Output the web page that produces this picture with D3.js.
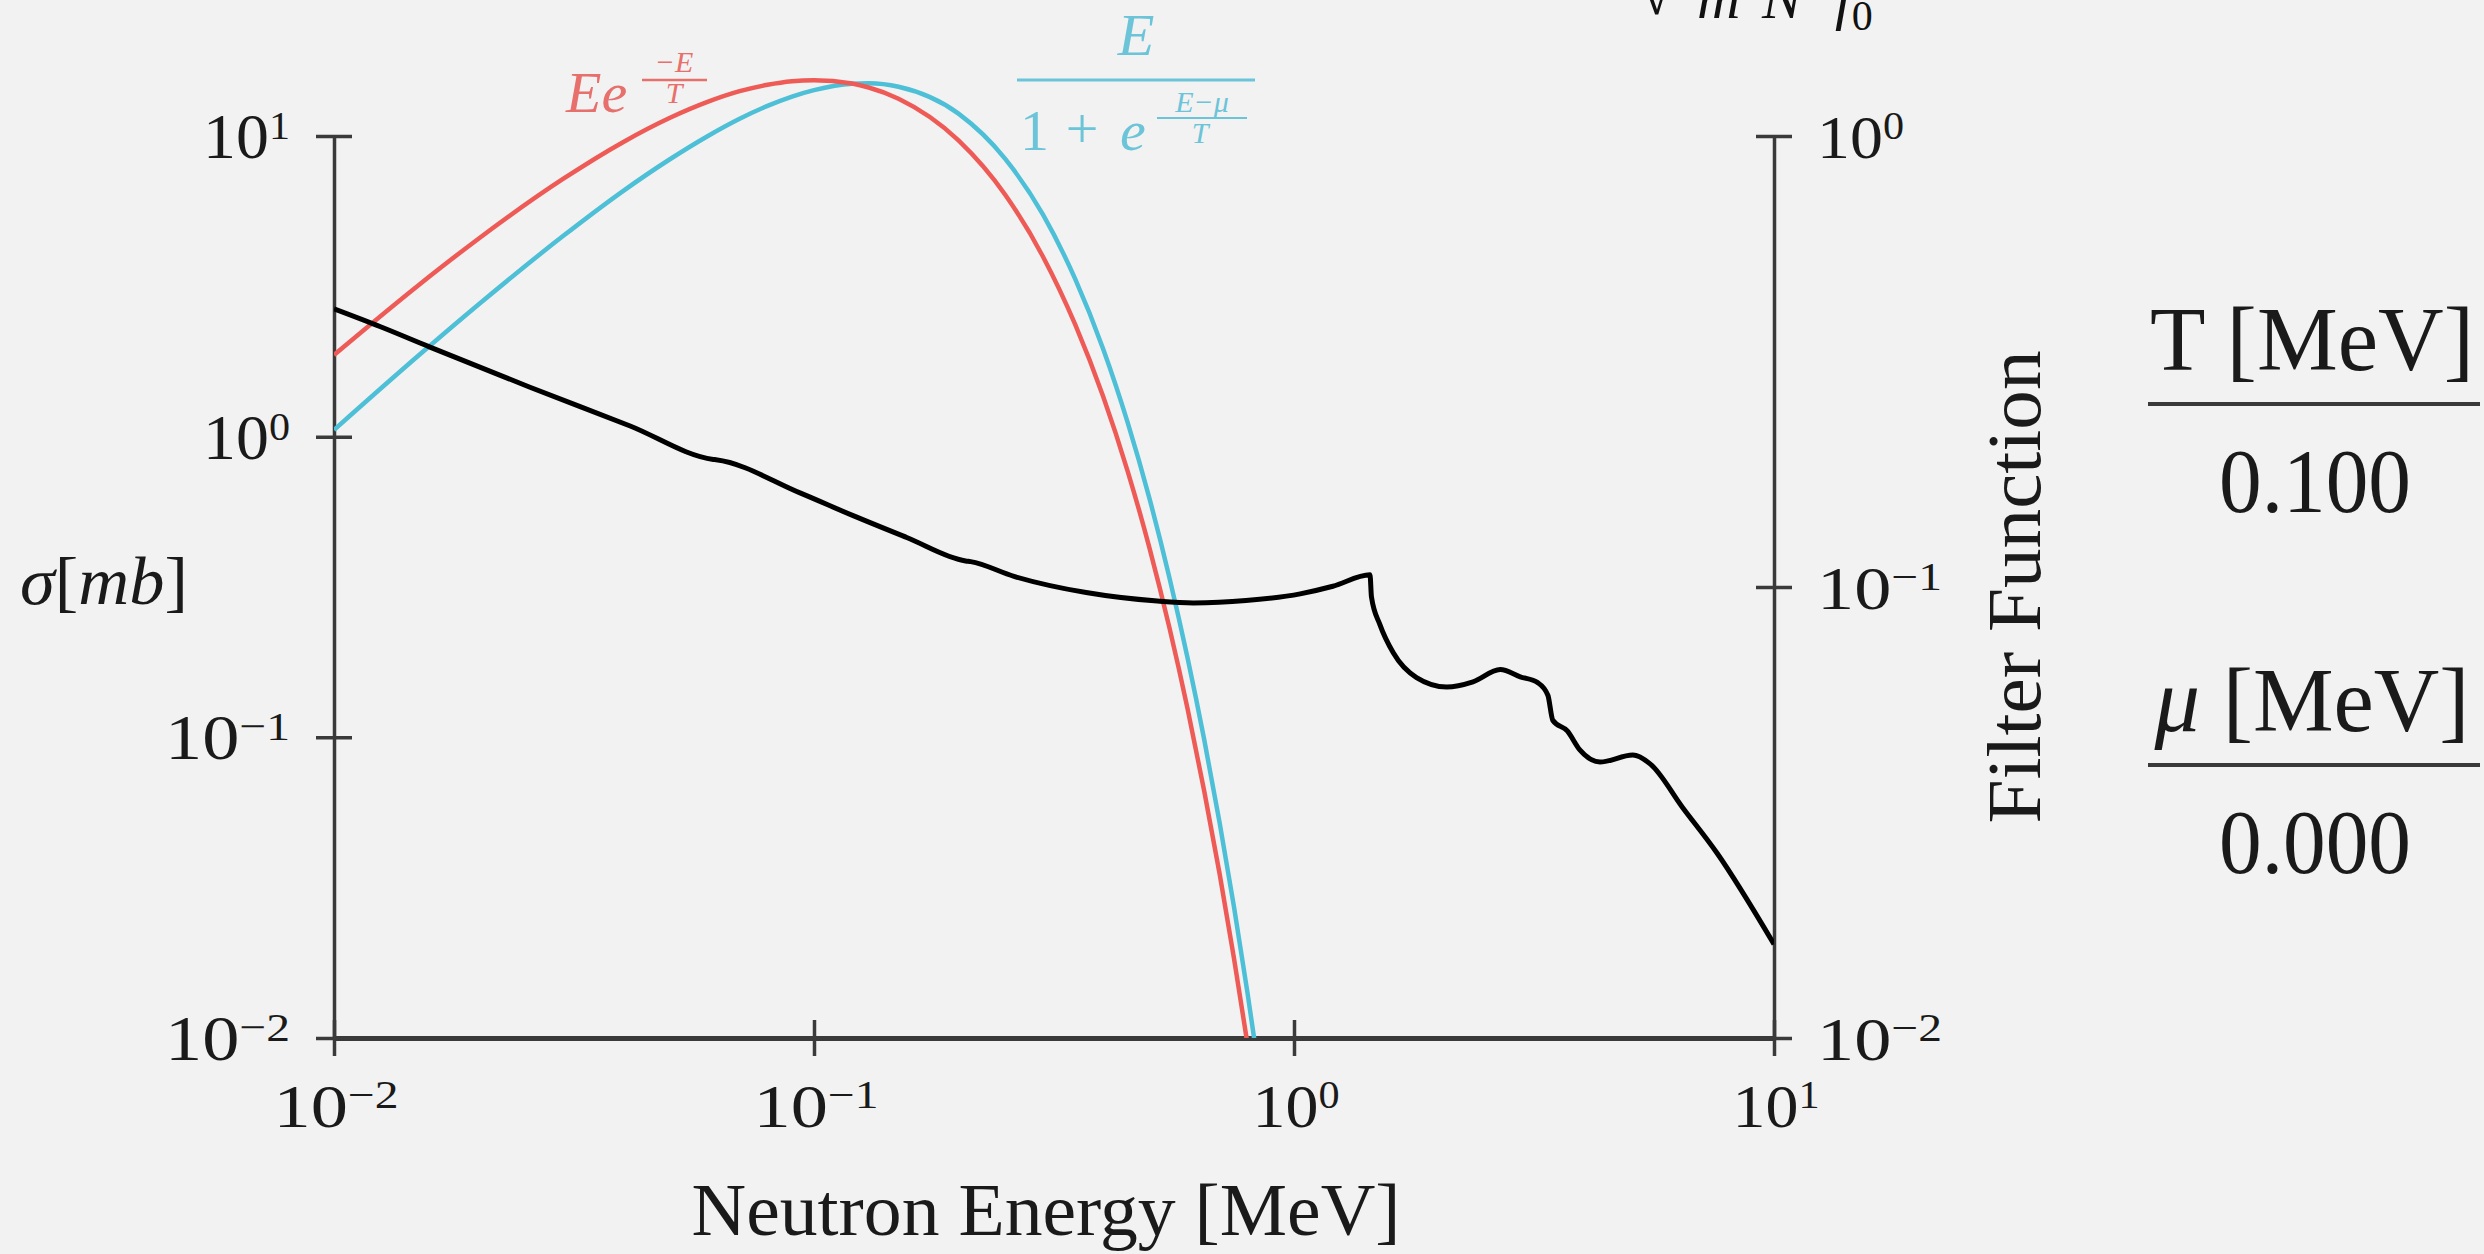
<!DOCTYPE html>
<html>
<head>
<meta charset="utf-8">
<script src="https://cdn.jsdelivr.net/npm/d3@7"></script>
<style>
  html, body { margin: 0; padding: 0; background: #f2f2f2; }
  svg { display: block; }
  text { font-family: "Liberation Serif", "DejaVu Serif", serif; }
</style>
</head>
<body>
<div id="chart"></div>
<script>
// cross section (black line, left axis)
var sigmaE = [0.01, 0.0125, 0.0158, 0.0256, 0.0414, 0.0617, 0.0625, 0.0935, 0.121,
              0.156, 0.207, 0.212, 0.261, 0.369, 0.519, 0.617, 0.794, 1.03, 1.205,
              1.44, 1.45, 1.51, 1.61, 1.80, 2.08, 2.36, 2.69, 2.96, 3.22,
              3.38, 3.46, 3.71, 3.94, 4.34, 5.08, 5.52, 6.46, 7.60, 10];
var sigmaVal = [2.66, 2.32, 1.99, 1.46, 1.085, 0.840, 0.838, 0.650, 0.545,
                0.462, 0.386, 0.384, 0.343, 0.303, 0.284, 0.280, 0.285, 0.300, 0.318,
                0.347, 0.293, 0.237, 0.191, 0.158, 0.147, 0.153, 0.168, 0.159, 0.152,
                0.138, 0.114, 0.105, 0.0908, 0.0828, 0.0873, 0.0816, 0.0582, 0.0413, 0.0205];

// filter functions (right axis)
var filterE = [0.01, 0.015, 0.02, 0.03, 0.04, 0.05, 0.06, 0.07, 0.08, 0.09,
               0.1, 0.12, 0.13, 0.15, 0.2, 0.25, 0.3, 0.35, 0.4, 0.45,
               0.5, 0.55, 0.6, 0.65, 0.7, 0.75, 0.8, 0.85];
var maxwellVal = [0.327, 0.467, 0.592, 0.803, 0.969, 1.096, 1.190, 1.257, 1.299, 1.323,
                  1.330, 1.307, 1.281, 1.210, 0.978, 0.742, 0.540, 0.382, 0.265, 0.181,
                  0.122, 0.0813, 0.0538, 0.0353, 0.0231, 0.0150, 0.0097, 0.00625];
var fermiVal = [0.223, 0.326, 0.423, 0.600, 0.755, 0.887, 0.999, 1.092, 1.166, 1.223,
                1.264, 1.306, 1.309, 1.286, 1.121, 0.891, 0.669, 0.482, 0.338, 0.232,
                0.157, 0.105, 0.0697, 0.0459, 0.0300, 0.0195, 0.0126, 0.0081];

var xTicks = [0.01, 0.1, 1, 10];
var xTickExp = ["\u22122", "\u22121", "0", "1"];
var yLeftTicks = [0.01, 0.1, 1, 10];
var yLeftExp = ["\u22122", "\u22121", "0", "1"];
var yRightTicks = [0.01, 0.1, 1];
var yRightExp = ["\u22122", "\u22121", "0"];

var paramNames = ["T", "\u03bc"];
var paramValues = ["0.100", "0.000"];

var W = 2484, H = 1254;
var axisCol = "#3a3a3a";
var redCol = "#ee5b57", blueCol = "#4dbfd6";

var svg = d3.select("#chart").append("svg")
    .attr("width", W).attr("height", H);
svg.append("rect").attr("width", W).attr("height", H).attr("fill", "#f2f2f2");

var x = d3.scaleLog().domain([0.01, 10]).range([334, 1774]);
var yL = d3.scaleLog().domain([0.01, 10]).range([1038, 136]);
var yR = d3.scaleLog().domain([0.01, 1]).range([1038, 136]);

// label "10^n"
function powLabel(sel, exp, size) {
  sel.attr("textLength", exp.charAt(0) === "\u2212" ? 125 : 87)
     .attr("lengthAdjust", "spacingAndGlyphs");
  sel.append("tspan").text("10");
  sel.append("tspan").attr("dy", -19).attr("font-size", size * 0.64).text(exp);
}

// ---- axes ----
var gx = svg.append("g").attr("transform", "translate(0,1038)")
  .call(d3.axisBottom(x).tickValues(xTicks).tickSizeOuter(0).tickFormat(""));
gx.selectAll(".tick line").attr("y1", -18).attr("y2", 18);
gx.selectAll(".tick text").remove();
gx.select(".domain").attr("stroke-width", 5);

var gl = svg.append("g").attr("transform", "translate(334,0)")
  .call(d3.axisLeft(yL).tickValues(yLeftTicks).tickSizeOuter(0).tickFormat(""));
gl.selectAll(".tick line").attr("x1", -18).attr("x2", 18);
gl.selectAll(".tick text").remove();
gl.select(".domain").attr("stroke-width", 3.5);

var gr = svg.append("g").attr("transform", "translate(1774,0)")
  .call(d3.axisRight(yR).tickValues(yRightTicks).tickSizeOuter(0).tickFormat(""));
gr.selectAll(".tick line").attr("x1", -18).attr("x2", 18);
gr.selectAll(".tick text").remove();
gr.select(".domain").attr("stroke-width", 3.5);

[gx, gl, gr].forEach(function(g) {
  g.selectAll("line, path").attr("stroke", axisCol);
  g.selectAll(".tick line").attr("stroke-width", 3.5);
});

// tick labels
xTicks.forEach(function(v, i) {
  var t = svg.append("text").attr("x", x(v) + 2).attr("y", 1127)
    .attr("text-anchor", "middle").attr("font-size", 62).attr("fill", "#1a1a1a");
  powLabel(t, xTickExp[i], 62);
});
yLeftTicks.forEach(function(v, i) {
  var t = svg.append("text").attr("x", 290).attr("y", yL(v) + 22)
    .attr("text-anchor", "end").attr("font-size", 64).attr("fill", "#1a1a1a");
  powLabel(t, yLeftExp[i], 64);
});
yRightTicks.forEach(function(v, i) {
  var t = svg.append("text").attr("x", 1817).attr("y", yR(v) + 22)
    .attr("text-anchor", "start").attr("font-size", 62).attr("fill", "#1a1a1a");
  powLabel(t, yRightExp[i], 62);
});

// axis titles
svg.append("text").attr("x", 1046).attr("y", 1235).attr("text-anchor", "middle")
  .attr("font-size", 75).attr("textLength", 709).attr("lengthAdjust", "spacingAndGlyphs")
  .attr("fill", "#1a1a1a").text("Neutron Energy [MeV]");

var yt = svg.append("text").attr("x", 20).attr("y", 604).attr("font-size", 68).attr("fill", "#1a1a1a")
  .attr("textLength", 168).attr("lengthAdjust", "spacingAndGlyphs");
yt.append("tspan").attr("font-style", "italic").text("\u03c3");
yt.append("tspan").text("[");
yt.append("tspan").attr("font-style", "italic").text("mb");
yt.append("tspan").text("]");

svg.append("text").attr("transform", "translate(2040,587) rotate(-90)")
  .attr("text-anchor", "middle").attr("font-size", 76)
  .attr("textLength", 473).attr("lengthAdjust", "spacingAndGlyphs")
  .attr("fill", "#1a1a1a").text("Filter Function");

// ---- lines ----
var clip = svg.append("clipPath").attr("id", "plotclip");
clip.append("rect").attr("x", x(0.01)).attr("y", 0)
  .attr("width", x(10) - x(0.01)).attr("height", yL(0.01));

var lineL = d3.line().x(function(d) { return x(d[0]); }).y(function(d) { return yL(d[1]); })
  .curve(d3.curveMonotoneX);
var lineR = d3.line().x(function(d) { return x(d[0]); }).y(function(d) { return yR(d[1]); })
  .curve(d3.curveMonotoneX);

var plot = svg.append("g").attr("clip-path", "url(#plotclip)");
plot.append("path").datum(d3.zip(filterE, fermiVal)).attr("d", lineR)
  .attr("fill", "none").attr("stroke", blueCol).attr("stroke-width", 4.5);
plot.append("path").datum(d3.zip(filterE, maxwellVal)).attr("d", lineR)
  .attr("fill", "none").attr("stroke", redCol).attr("stroke-width", 4.5);
plot.append("path").datum(d3.zip(sigmaE, sigmaVal)).attr("d", lineL)
  .attr("fill", "none").attr("stroke", "#000").attr("stroke-width", 5)
  .attr("stroke-linejoin", "round");

// ---- formula labels ----
var redLab = "#e76f6c", blueLab = "#6cc4d8";
var rl = svg.append("g").attr("fill", redLab).attr("font-style", "italic");
rl.append("text").attr("x", 566).attr("y", 112).attr("font-size", 58).text("Ee");
rl.append("text").attr("x", 674).attr("y", 72).attr("text-anchor", "middle").attr("font-size", 30).text("\u2212E");
rl.append("line").attr("x1", 642).attr("x2", 707).attr("y1", 80).attr("y2", 80)
  .attr("stroke", redLab).attr("stroke-width", 2.5);
rl.append("text").attr("x", 674).attr("y", 103).attr("text-anchor", "middle").attr("font-size", 30).text("T");

var bl = svg.append("g").attr("fill", blueLab);
bl.append("text").attr("x", 1136).attr("y", 55).attr("text-anchor", "middle")
  .attr("font-size", 60).attr("font-style", "italic").text("E");
bl.append("line").attr("x1", 1017).attr("x2", 1255).attr("y1", 80).attr("y2", 80)
  .attr("stroke", blueLab).attr("stroke-width", 3);
bl.append("text").attr("x", 1020).attr("y", 150).attr("font-size", 58).text("1");
bl.append("text").attr("x", 1082).attr("y", 148).attr("text-anchor", "middle").attr("font-size", 58).text("+");
bl.append("text").attr("x", 1120).attr("y", 150).attr("font-size", 58).attr("font-style", "italic").text("e");
bl.append("text").attr("x", 1202).attr("y", 112).attr("text-anchor", "middle")
  .attr("font-size", 30).attr("font-style", "italic").text("E\u2212\u03bc");
bl.append("line").attr("x1", 1157).attr("x2", 1247).attr("y1", 118).attr("y2", 118)
  .attr("stroke", blueLab).attr("stroke-width", 2);
bl.append("text").attr("x", 1200).attr("y", 143).attr("text-anchor", "middle")
  .attr("font-size", 30).attr("font-style", "italic").text("T");

// formula cut off by the top edge, as in the source picture
var topG = svg.append("g").attr("fill", "#111").attr("font-size", 60);
topG.append("text").attr("x", 1640).attr("y", 14).text("\u221a");
topG.append("text").attr("x", 1697).attr("y", 18).attr("font-style", "italic").text("m");
topG.append("text").attr("x", 1762).attr("y", 18).attr("font-style", "italic").text("N");
var ft = topG.append("text").attr("x", 1835).attr("y", 18).attr("font-style", "italic");
ft.append("tspan").text("f");
ft.append("tspan").attr("dy", 12).attr("font-size", 42).attr("font-style", "normal").text("0");

// ---- parameter panel ----
var panelY = [370, 731];
paramNames.forEach(function(n, i) {
  var t = svg.append("text").attr("x", 2312).attr("y", panelY[i]).attr("text-anchor", "middle")
    .attr("font-size", 90).attr("fill", "#1a1a1a")
    .attr("textLength", i === 0 ? 324 : 315).attr("lengthAdjust", "spacingAndGlyphs");
  t.append("tspan").attr("font-style", i === 0 ? "normal" : "italic").text(n);
  t.append("tspan").text(" [MeV]");
  svg.append("line").attr("x1", 2148).attr("x2", 2480)
    .attr("y1", panelY[i] + 34).attr("y2", panelY[i] + 34)
    .attr("stroke", axisCol).attr("stroke-width", 4);
  svg.append("text").attr("x", 2315).attr("y", panelY[i] + 142).attr("text-anchor", "middle")
    .attr("font-size", 90).attr("fill", "#1a1a1a")
    .attr("textLength", 192).attr("lengthAdjust", "spacingAndGlyphs")
    .text(paramValues[i]);
});
</script>
</body>
</html>
